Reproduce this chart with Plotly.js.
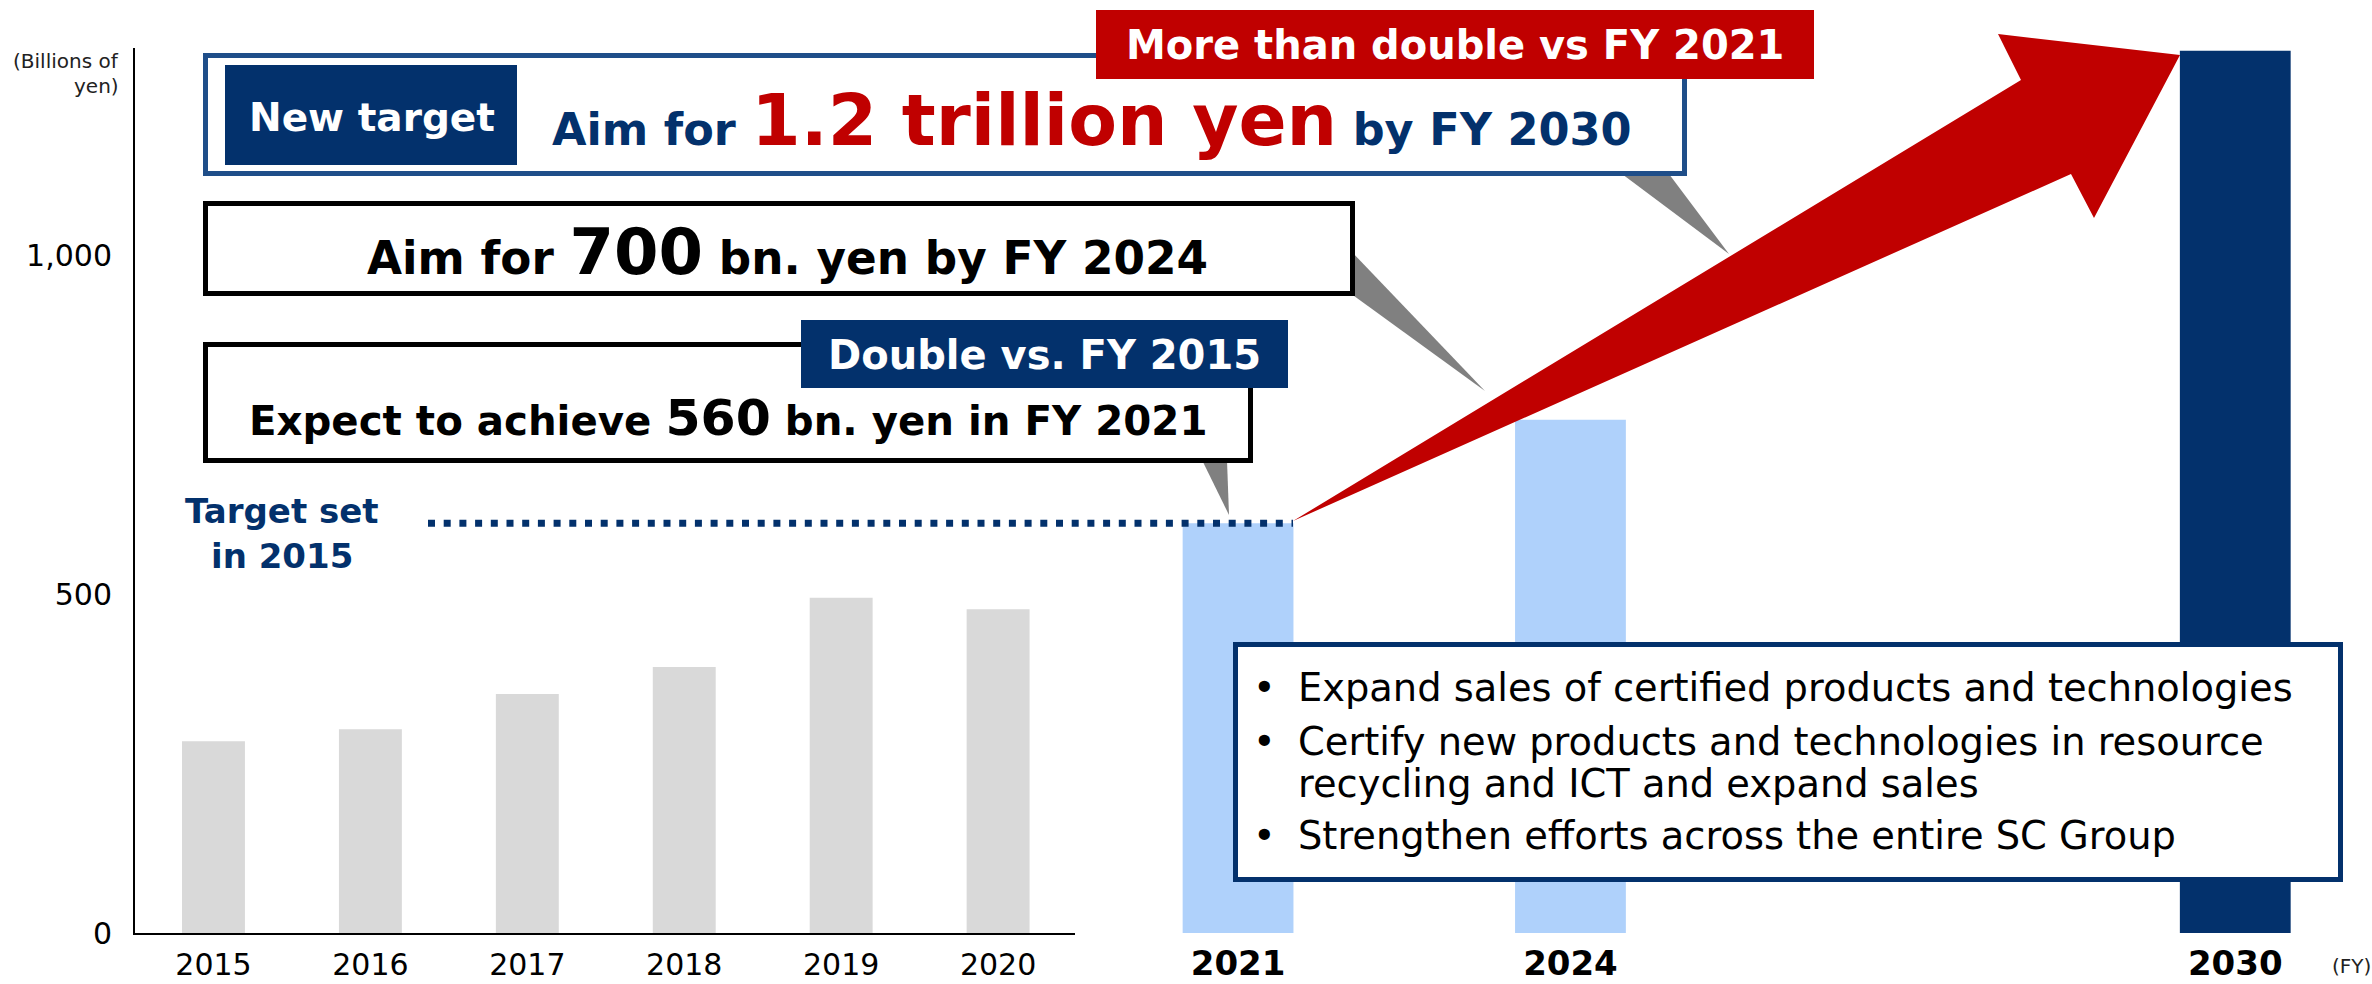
<!DOCTYPE html>
<html>
<head>
<meta charset="utf-8">
<script src="https://cdn.plot.ly/plotly-3.0.1.min.js"></script>
<style>html,body{margin:0;padding:0;background:#fff;}#chart{width:2372px;height:984px;}</style>
</head>
<body>
<div id="chart"></div>
<script>
// ---- data ----
const histYears = [2015, 2016, 2017, 2018, 2019, 2020];
const histValues = [283, 301, 353, 393, 495, 478];
const planYears = [2021, 2024, 2030];
const planValues = [605, 758, 1303];
const target2015 = 605;
const yTickVals = [0, 500, 1000];
const yTickText = ['0', '500', '1,000'];
const bulletLines = [
  'Expand sales of certified products and technologies',
  'Certify new products and technologies in resource',
  'recycling and ICT and expand sales',
  'Strengthen efforts across the entire SC Group'
];

// ---- page geometry helpers ----
const W = 2372, H = 984;
const fx = p => p / W;
const fy = p => 1 - p / H;
const FONT = 'DejaVu Sans';
const NAVY = '#03316C', RED = '#C00000', LBLUE = '#AFD1FB', GRAY = '#D9D9D9', PGRAY = '#808080';

const traces = [
  {type: 'bar', x: histYears, y: histValues, xaxis: 'x', yaxis: 'y', width: 0.401,
   marker: {color: GRAY, line: {width: 0}}, hoverinfo: 'skip'},
  {type: 'bar', x: planYears, y: planValues, xaxis: 'x2', yaxis: 'y', width: 1.0,
   marker: {color: [LBLUE, LBLUE, NAVY], line: {width: 0}}, hoverinfo: 'skip'}
];

function rectPx(x0, y0, x1, y1, fill, lineColor, lw) {
  return {type: 'rect', xref: 'paper', yref: 'paper', x0: fx(x0), x1: fx(x1), y0: fy(y1), y1: fy(y0),
    fillcolor: fill, line: {color: lineColor || fill, width: lw || 0}, layer: 'above'};
}
function pathPx(pts, fill) {
  const d = 'M ' + pts.map(p => fx(p[0]).toFixed(5) + ' ' + fy(p[1]).toFixed(5)).join(' L ') + ' Z';
  return {type: 'path', xref: 'paper', yref: 'paper', path: d, fillcolor: fill, line: {width: 0}, layer: 'above'};
}

const shapes = [
  // callout pointers
  pathPx([[1622, 174], [1669, 174], [1729, 254]], PGRAY),
  pathPx([[1350, 250], [1350, 293], [1485, 391]], PGRAY),
  pathPx([[1202, 460], [1227, 460], [1229, 515]], PGRAY),
  // boxes
  rectPx(205.5, 55.5, 1684.5, 173.5, '#ffffff', '#1F4E89', 5),
  rectPx(225, 65, 517, 165, NAVY),
  rectPx(205.5, 203.5, 1352.5, 293.5, '#ffffff', '#000000', 5),
  rectPx(205.5, 344.5, 1250.5, 460.5, '#ffffff', '#000000', 5),
  rectPx(801, 320, 1288, 388, NAVY),
  // big red arrow
  pathPx([[1293, 521], [2021, 80], [1998, 34], [2180, 55], [2094, 218], [2071, 174]], RED),
  rectPx(1096, 10, 1814, 79, RED),
  // bullet box
  rectPx(1235.5, 644.5, 2340.5, 879.5, '#ffffff', NAVY, 5),
  // target line
  {type: 'line', xref: 'paper', yref: 'y', x0: fx(428), x1: fx(1293), y0: target2015, y1: target2015,
   line: {color: NAVY, width: 7, dash: '7px,8.7px'}, layer: 'above'}
];

function ann(text, x, y, size, color, opts) {
  return Object.assign({xref: 'paper', yref: 'paper', x: fx(x), y: fy(y), text: text, showarrow: false,
    xanchor: 'center', yanchor: 'middle', font: {family: FONT, size: size, color: color}}, opts || {});
}
const B = s => '<b>' + s + '</b>';

const annotations = [
  ann('(Billions of', 121, 61, 20, '#222', {xanchor: 'right'}),
  ann('yen)', 121, 86, 20, '#222', {xanchor: 'right'}),
  ann(B('New target'), 372, 117, 39, '#ffffff'),
  ann(B('Aim for <span style="font-size:71px;color:' + RED + '">1.2 trillion yen</span> by FY 2030'), 1092, 121, 44.6, NAVY),
  ann(B('More than double vs FY 2021'), 1455, 45, 40, '#ffffff'),
  ann(B('Aim for <span style="font-size:64px">700</span> bn. yen by FY 2024'), 787, 252, 45.3, '#000000'),
  ann(B('Double vs. FY 2015'), 1044.5, 355, 40, '#ffffff'),
  ann(B('Expect to achieve <span style="font-size:50.5px">560</span> bn. yen in FY 2021'), 728, 417.7, 40.3, '#000000'),
  ann(B('Target set'), 281.5, 511, 34, NAVY),
  ann(B('in 2015'), 281.5, 556, 34, NAVY),
  ann('(FY)', 2351, 966, 20, '#222')
];
const lineCenters = [687, 741, 783, 835];
bulletLines.forEach((t, i) => {
  annotations.push(ann(t, 1296, lineCenters[i], 38.4, '#000000', {xanchor: 'left'}));
});
[0, 1, 3].forEach(i => annotations.push(ann('•', 1264, lineCenters[i], 38.4, '#000000')));

const layout = {
  width: W, height: H,
  margin: {l: 0, r: 0, t: 0, b: 0, pad: 0},
  paper_bgcolor: '#ffffff', plot_bgcolor: 'rgba(0,0,0,0)',
  showlegend: false, barmode: 'overlay',
  xaxis: {domain: [fx(135), fx(1075)], range: [2014.5, 2020.49], anchor: 'y',
    showline: true, linecolor: '#000', linewidth: 2, showgrid: false, zeroline: false,
    tickmode: 'array', tickvals: histYears, ticktext: histYears.map(String), ticks: '',
    ticklabelstandoff: 4, tickfont: {family: FONT, size: 30, color: '#000'}, fixedrange: true},
  xaxis2: {domain: [fx(1100), 1], range: [2019.754, 2031.234], anchor: 'y',
    showline: false, showgrid: false, zeroline: false,
    tickmode: 'array', tickvals: planYears, ticktext: planYears.map(y => '<b>' + y + '</b>'), ticks: '',
    ticklabelstandoff: 7, tickfont: {family: FONT, size: 34, color: '#000'}, fixedrange: true},
  yaxis: {domain: [fy(933), fy(48)], range: [0, 1307], anchor: 'x',
    showline: true, linecolor: '#000', linewidth: 2, showgrid: false, zeroline: false,
    tickmode: 'array', tickvals: yTickVals, ticktext: yTickText, ticks: '',
    ticklabelstandoff: 15, tickfont: {family: FONT, size: 30, color: '#000'}, fixedrange: true},
  shapes: shapes,
  annotations: annotations
};

Plotly.newPlot('chart', traces, layout, {staticPlot: true, displayModeBar: false});
</script>
</body>
</html>
